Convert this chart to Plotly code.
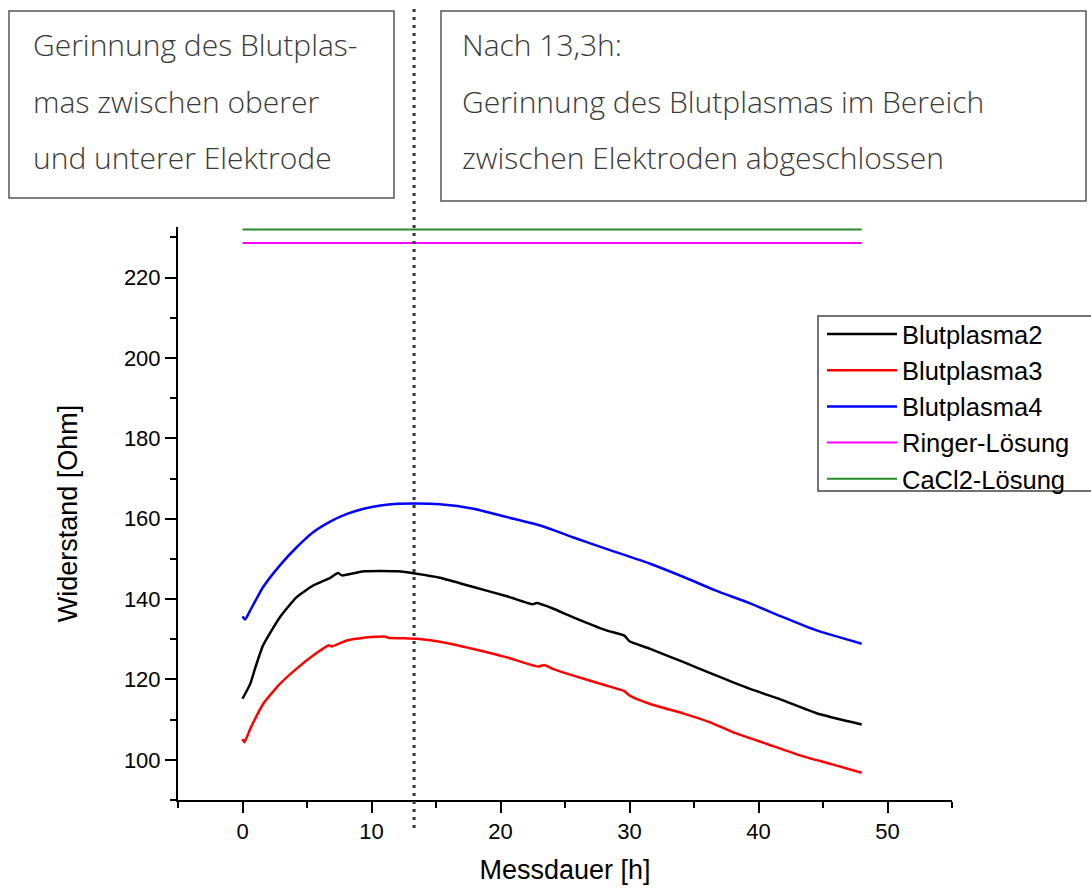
import plotly.graph_objects as go

# Messdauer [h] und Widerstand [Ohm] je Probe
t_bp2 = [0, 0.6, 1.0, 1.6, 2.9, 4.2, 5.5, 6.8, 7.4, 7.7, 9.4, 10.7, 12.0, 13.5, 15.3, 17.9,
         20.5, 22.5, 22.8, 24.1, 25.6, 28.2, 29.6, 30.0, 31.6, 34.2, 36.7, 39.3, 41.9, 44.5, 48.0]
r_bp2 = [115.2, 118.9, 123.0, 128.5, 135.5, 140.5, 143.4, 145.3, 146.5, 145.9, 146.9, 147.0, 146.9,
         146.3, 145.3, 143.0, 140.7, 138.7, 139.0, 137.6, 135.5, 132.2, 130.9, 129.5, 127.6, 124.3,
         121.0, 117.7, 114.8, 111.6, 108.8]

t_bp3 = [0, 0.15, 0.6, 1.6, 2.9, 4.2, 5.5, 6.7, 6.9, 8.1, 9.4, 11.0, 11.3, 13.5, 15.3, 17.9, 20.5,
         22.9, 23.4, 24.0, 25.6, 28.2, 29.6, 30.0, 31.6, 34.2, 36.2, 38.0, 40.6, 43.2, 45.8, 48.0]
r_bp3 = [105.2, 104.4, 107.7, 113.9, 118.9, 122.7, 126.0, 128.5, 128.2, 129.7, 130.4, 130.7, 130.4,
         130.1, 129.4, 127.6, 125.5, 123.2, 123.6, 122.7, 121.0, 118.5, 117.1, 116.0, 113.9, 111.5,
         109.4, 106.9, 104.0, 101.1, 98.8, 96.8]

t_bp4 = [0, 0.2, 0.6, 1.6, 2.9, 4.2, 5.5, 6.8, 8.1, 9.4, 10.7, 12.0, 13.5, 15.3, 17.9, 20.5, 23.1,
         25.6, 28.2, 31.6, 34.2, 36.7, 39.3, 41.9, 44.5, 48.0]
r_bp4 = [135.7, 134.9, 137.2, 143.0, 148.4, 152.9, 156.7, 159.3, 161.2, 162.5, 163.3, 163.7, 163.8,
         163.6, 162.5, 160.4, 158.3, 155.4, 152.5, 148.8, 145.5, 142.1, 139.0, 135.5, 132.2, 128.9]

t_ref = [0, 48]
r_ringer = [228.6, 228.6]
r_cacl2 = [232.0, 232.0]

series_names = ["Blutplasma2", "Blutplasma3", "Blutplasma4", "Ringer-Lösung", "CaCl2-Lösung"]
series_colors = ["#000000", "#ff0000", "#0000ff", "#ff00ff", "#2a8a2a"]

t_gerinnung = 13.3  # Zeitpunkt abgeschlossener Gerinnung [h]

box_left_lines = ["Gerinnung des Blutplas-", "mas zwischen oberer", "und unterer Elektrode"]
box_right_lines = ["Nach 13,3h:", "Gerinnung des Blutplasmas im Bereich",
                   "zwischen Elektroden abgeschlossen"]

x_ticks = [0, 10, 20, 30, 40, 50]
y_ticks = [100, 120, 140, 160, 180, 200, 220]

# --- Figur ---
W, H = 1091, 890
ML, MR, MT, MB = 178, 139, 227, 90
PW, PH = W - ML - MR, H - MT - MB


def px_x(p):
    return (p - ML) / PW


def px_y(p):
    return (H - MB - p) / PH


fig = go.Figure()
data = [(t_bp2, r_bp2, 2.5, "spline"), (t_bp3, r_bp3, 2.5, "spline"),
        (t_bp4, r_bp4, 2.5, "spline"), (t_ref, r_ringer, 2, "linear"),
        (t_ref, r_cacl2, 2, "linear")]
for (tx, ry, lw, shp), name, col in zip(data, series_names, series_colors):
    line = dict(color=col, width=lw, shape=shp)
    if shp == "spline":
        line["smoothing"] = 0.5
    fig.add_trace(go.Scatter(x=tx, y=ry, mode="lines", name=name, line=line))

axis_font = dict(family="Arial, Liberation Sans, sans-serif", size=22, color="black")
title_font = dict(family="Arial, Liberation Sans, sans-serif", size=27, color="black")

fig.update_xaxes(range=[-5, 55], tickvals=x_ticks, ticks="outside", ticklen=11, tickwidth=2,
                 tickcolor="black", showline=True, linecolor="black", linewidth=2,
                 showgrid=False, zeroline=False, tickfont=axis_font,
                 minor=dict(dtick=5, tick0=0, ticks="outside", ticklen=6, tickwidth=2,
                            tickcolor="black", showgrid=False),
                 title=dict(text="Messdauer [h]", font=title_font, standoff=17))
fig.update_yaxes(range=[90, 232.6], tickvals=y_ticks, ticks="outside", ticklen=11, tickwidth=2,
                 tickcolor="black", showline=True, linecolor="black", linewidth=2,
                 showgrid=False, zeroline=False, tickfont=axis_font,
                 minor=dict(dtick=10, tick0=0, ticks="outside", ticklen=6, tickwidth=2,
                            tickcolor="black", showgrid=False),
                 title=dict(text="Widerstand [Ohm]", font=title_font, standoff=38))

# Markierung des Gerinnungszeitpunkts
fig.add_shape(type="line", xref="x", yref="paper", x0=t_gerinnung, x1=t_gerinnung,
              y0=px_y(828), y1=px_y(6), line=dict(color="#333333", width=3, dash="3px,5px"))

# Rahmen der Legende
fig.add_shape(type="rect", xref="paper", yref="paper", x0=px_x(818), x1=px_x(1100),
              y0=px_y(491), y1=px_y(316), fillcolor="white",
              line=dict(color="#444444", width=1.5))

# Textkästen
text_font = dict(family="Open Sans, Noto Sans, sans-serif", size=30, color="#3a3a3a",
                 weight=300)
fig.add_shape(type="rect", xref="paper", yref="paper", x0=px_x(9), x1=px_x(394),
              y0=px_y(198), y1=px_y(11), line=dict(color="#555555", width=1.5))
fig.add_shape(type="rect", xref="paper", yref="paper", x0=px_x(441), x1=px_x(1086),
              y0=px_y(201), y1=px_y(11), line=dict(color="#555555", width=1.5))
line_ys = [45, 101, 157]
for txt, yy in zip(box_left_lines, line_ys):
    fig.add_annotation(text=txt, xref="paper", yref="paper", x=px_x(31), y=px_y(yy),
                       xanchor="left", yanchor="middle", showarrow=False, font=text_font)
for txt, yy in zip(box_right_lines, line_ys):
    fig.add_annotation(text=txt, xref="paper", yref="paper", x=px_x(460), y=px_y(yy),
                       xanchor="left", yanchor="middle", showarrow=False, font=text_font)

fig.update_layout(
    width=W, height=H, template="none",
    margin=dict(l=ML, r=MR, t=MT, b=MB, autoexpand=False),
    paper_bgcolor="white", plot_bgcolor="white",
    font=dict(family="Arial, Liberation Sans, sans-serif", color="black"),
    legend=dict(x=px_x(822), y=px_y(311), xanchor="left", yanchor="top",
                bgcolor="rgba(0,0,0,0)", borderwidth=0,
                font=dict(family="Arial, Liberation Sans, sans-serif", size=25.5, color="black"),
                itemwidth=70, tracegroupgap=0),
    showlegend=True,
)

fig.write_html("out.html")
